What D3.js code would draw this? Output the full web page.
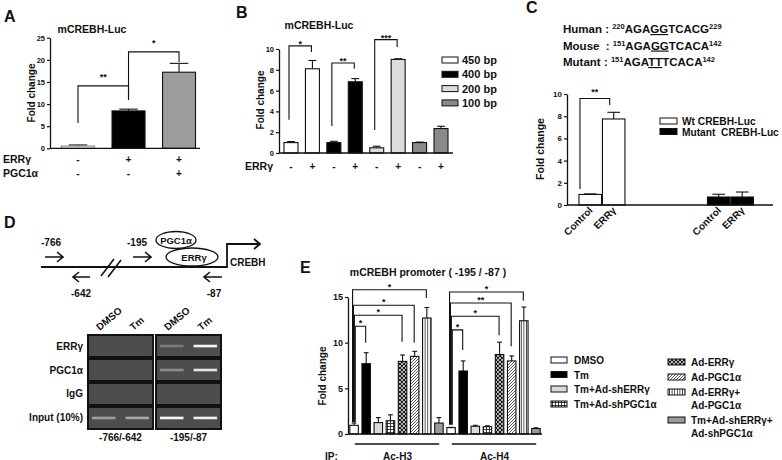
<!DOCTYPE html>
<html><head><meta charset="utf-8">
<script src="https://cdn.jsdelivr.net/npm/d3@7"></script>
<style>
body{margin:0;background:#fff;}
svg{display:block;}
</style></head><body>
<svg id="fig" width="782" height="460"></svg>
<script>
// ================= DATA =================
// Panel A
const aErrSigns = ["-", "+", "+"];
const aPgcSigns = ["-", "-", "+"];
const aValues = [0.5, 8.45, 17.2];
const aErrors = [0.25, 0.4, 2.0];
const aTicks = [0, 5, 10, 15, 20, 25];
const aColors = ["#f4f4f4", "#000000", "#9c9c9c"];
const aBrackets = [
  {from: 0, to: 1, top: 14.1, left: 5.7, right: 10.9, label: "**"},
  {from: 1, to: 2, top: 21.8, left: 10.9, right: 19.5, label: "*"}
];
// Panel B
const bSeries = ["450 bp", "400 bp", "200 bp", "100 bp"];
const bColors = ["#ffffff", "#000000", "#dcdcdc", "#8a8a8a"];
const bSigns = ["-", "+", "-", "+", "-", "+", "-", "+"];
const bValues = [1.0, 8.1, 1.0, 6.85, 0.5, 9.0, 1.0, 2.35];
const bErrors = [0.1, 0.8, 0.12, 0.3, 0.15, 0.06, 0.05, 0.22];
const bTicks = [0, 2, 4, 6, 8, 10];
const bBrackets = [
  {from: 0, to: 1, top: 10.3, left: 3.2, right: 9.7, label: "*"},
  {from: 2, to: 3, top: 8.65, left: 2.6, right: 8.1, label: "**"},
  {from: 4, to: 5, top: 10.9, left: 2.2, right: 10.2, label: "***"}
];
// Panel C
const cSeries = ["Wt CREBH-Luc", "Mutant  CREBH-Luc"];
const cColors = ["#ffffff", "#000000"];
const cLabels = ["Control", "ERRγ"];
const cWt = [0.95, 7.75];
const cWtErr = [0.05, 0.6];
const cMut = [0.72, 0.72];
const cMutErr = [0.25, 0.45];
const cTicks = [0, 2, 4, 6, 8, 10];
const cBracket = {top: 9.6, left: 1.45, right: 9.0, label: "**"};
const cSeq = [
  ["Human :", "220", "AGA", "GG", "TCACG", "229"],
  ["Mouse  :", "151", "AGA", "GG", "TCACA", "142"],
  ["Mutant :", "151", "AGA", "TT", "TCACA", "142"]
];
// Panel D
const dRows = ["ERRγ", "PGC1α", "IgG", "Input (10%)"];
const dRegions = ["-766/-642", "-195/-87"];
const dLanes = ["DMSO", "Tm"];
const dBands = [ // [row][region][lane] band intensity
  [[0, 0], [0.25, 0.95]],
  [[0, 0], [0.35, 0.85]],
  [[0, 0], [0, 0]],
  [[0.45, 0.5], [0.95, 0.9]]
];
// Panel E
const eGroups = ["Ac-H3", "Ac-H4"];
const eTreatments = ["DMSO", "Tm", "Tm+Ad-shERRγ", "Tm+Ad-shPGC1α", "Ad-ERRγ", "Ad-PGC1α",
  "Ad-ERRγ+\nAd-PGC1α", "Tm+Ad-shERRγ+\nAd-shPGC1α"];
const eH3 = [0.95, 7.7, 1.25, 1.45, 7.95, 8.5, 12.7, 1.2];
const eH3Err = [0.25, 1.2, 0.55, 0.65, 0.7, 0.55, 1.15, 0.6];
const eH4 = [0.7, 6.9, 0.85, 0.8, 8.7, 8.0, 12.4, 0.6];
const eH4Err = [0.03, 1.1, 0.1, 0.1, 1.35, 0.55, 1.5, 0.08];
const eTicks = [0, 5, 10, 15];
const eFills = ["#ffffff", "#000000", "#dcdcdc", "url(#pGrid)", "url(#pCross)", "url(#pDiag)", "url(#pVert)", "#9a9a9a"];
const eBrackets = [
  {group: 0, to: 6, top: 15.8, right: 14.9, left: 1.3, label: "*"},
  {group: 0, to: 5, top: 14.1, right: 10.0, left: 1.3, label: "*"},
  {group: 0, to: 4, top: 13.0, right: 10.1, left: 1.3, label: "*"},
  {group: 0, to: 1, top: 11.8, right: 10.0, left: 1.3, label: "*"},
  {group: 1, to: 6, top: 15.55, right: 14.6, left: 1.0, label: "*"},
  {group: 1, to: 5, top: 14.35, right: 9.6, left: 1.0, label: "**"},
  {group: 1, to: 4, top: 12.9, right: 10.8, left: 1.0, label: "*"},
  {group: 1, to: 1, top: 11.4, right: 9.2, left: 1.0, label: "*"}
];

// ================= HELPERS =================
const FONT = '"Liberation Sans", Arial, Helvetica, sans-serif';
const INK = "#111";
const svg = d3.select("#fig").attr("font-family", FONT).attr("font-weight", "bold");

const defs = svg.append("defs");
function pat(id, w, h, d, sw, col) {
  const p = defs.append("pattern").attr("id", id).attr("patternUnits", "userSpaceOnUse").attr("width", w).attr("height", h);
  p.append("rect").attr("width", w).attr("height", h).attr("fill", "#fff");
  p.append("path").attr("d", d).attr("stroke", col).attr("stroke-width", sw).attr("fill", "none");
}
pat("pGrid", 3, 3, "M0,0.5H3M0.5,0V3", 0.8, "#111");
pat("pCross", 4, 4, "M0,0L4,4M4,0L0,4M-1,1L1,-1M3,5L5,3M-1,3L1,5M3,-1L5,1", 1.2, "#111");
pat("pDiag", 3, 3, "M0,3L3,0M-1,1L1,-1M2,4L4,2", 0.8, "#333");
pat("pVert", 2.6, 4, "M1.3,0V4", 0.8, "#222");
defs.append("filter").attr("id", "blur").attr("x", "-20%").attr("y", "-200%").attr("width", "140%").attr("height", "500%")
  .append("feGaussianBlur").attr("stdDeviation", 0.7);

function text(g, x, y, s, size, anchor) {
  return g.append("text").attr("x", x).attr("y", y).attr("font-size", size)
    .attr("text-anchor", anchor || "start").attr("fill", INK).text(s);
}
function yAxis(g, y, ticks, x, fs) {
  const ax = g.append("g").attr("transform", `translate(${x},0)`)
    .call(d3.axisLeft(y).tickValues(ticks).tickSize(3).tickSizeOuter(0).tickPadding(2));
  ax.attr("font-family", null).attr("font-size", fs).attr("font-weight", "bold");
  ax.select(".domain").attr("stroke", INK).attr("stroke-width", 1.3);
  ax.selectAll(".tick line").attr("stroke", INK).attr("stroke-width", 1.2);
  ax.selectAll(".tick text").attr("fill", INK);
  return ax;
}
function baseline(g, x1, x2, yy) {
  g.append("line").attr("x1", x1).attr("x2", x2).attr("y1", yy).attr("y2", yy)
    .attr("stroke", INK).attr("stroke-width", 1.3);
}
function yLabel(g, cx, cy, s, fs) {
  g.append("text").attr("transform", `translate(${cx + fs * 0.36},${cy}) rotate(-90)`)
    .attr("text-anchor", "middle").attr("font-size", fs).attr("fill", INK).text(s);
}
function bar(g, x0, w, y, v, e, fill, stroke) {
  const top = y(v + e), yt = y(v);
  g.append("line").attr("x1", x0 + w / 2).attr("x2", x0 + w / 2).attr("y1", yt).attr("y2", top)
    .attr("stroke", INK).attr("stroke-width", 1.1);
  g.append("line").attr("x1", x0 + w / 2 - w * 0.28).attr("x2", x0 + w / 2 + w * 0.28).attr("y1", top).attr("y2", top)
    .attr("stroke", INK).attr("stroke-width", 1.1);
  g.append("rect").attr("x", x0).attr("y", yt).attr("width", w).attr("height", y(0) - yt)
    .attr("fill", fill).attr("stroke", stroke || INK).attr("stroke-width", 1.1);
}
function bracket(g, x1, x2, yTop, yL, yR, label, fs, starOff) {
  g.append("path").attr("d", `M${x1},${yL}V${yTop}H${x2}V${yR}`).attr("fill", "none")
    .attr("stroke", INK).attr("stroke-width", 1.1);
  text(g, (x1 + x2) / 2, yTop - starOff + fs * 0.57, label, fs, "middle");
}
function panelLetter(x, y, s) { text(svg, x, y, s, 16); }

// ================= PANEL A =================
{
  const g = svg.append("g");
  panelLetter(4, 22, "A");
  const y = d3.scaleLinear().domain([0, 25]).range([148.3, 37.7]);
  const x = d3.scaleBand().domain(d3.range(aValues.length)).range([50, 200])
    .paddingInner(0.347).paddingOuter(0.158).align(0.72);
  text(g, 92, 33, "mCREBH-Luc", 10.5, "middle");
  aValues.forEach((v, i) => bar(g, x(i), x.bandwidth(), y, v, aErrors[i], aColors[i], i === 0 ? "#888" : INK));
  yAxis(g, y, aTicks, 50, 7.5);
  baseline(g, 50, 200, y(0));
  yLabel(g, 31, 93, "Fold change", 10);
  aBrackets.forEach(b => bracket(g, x(b.from) + x.bandwidth() / 2, x(b.to) + x.bandwidth() / 2,
    y(b.top), y(b.left), y(b.right), b.label, 9, 11));
  text(g, 3, 163, "ERRγ", 10.5);
  text(g, 3, 177, "PGC1α", 10.5);
  aErrSigns.forEach((s, i) => text(g, x(i) + x.bandwidth() / 2, 163, s, 10, "middle"));
  aPgcSigns.forEach((s, i) => text(g, x(i) + x.bandwidth() / 2, 177, s, 10, "middle"));
}

// ================= PANEL B =================
{
  const g = svg.append("g");
  panelLetter(236, 18, "B");
  const y = d3.scaleLinear().domain([0, 10]).range([153, 49]);
  const x = d3.scaleBand().domain(d3.range(bValues.length)).range([279, 453])
    .paddingInner(0.347).paddingOuter(0.233);
  text(g, 319, 29, "mCREBH-Luc", 10.5, "middle");
  bValues.forEach((v, i) => bar(g, x(i), x.bandwidth(), y, v, bErrors[i], bColors[Math.floor(i / 2)]));
  yAxis(g, y, bTicks, 279, 7.5);
  baseline(g, 279, 453, y(0));
  yLabel(g, 260, 100, "Fold change", 10);
  bBrackets.forEach(b => bracket(g, x(b.from) + x.bandwidth() / 2 - 2, x(b.to) + x.bandwidth() / 2 - 1,
    y(b.top), y(b.left), y(b.right), b.label, 9, 4));
  text(g, 245, 170, "ERRγ", 10.5);
  bSigns.forEach((s, i) => text(g, x(i) + x.bandwidth() / 2, 170, s, 10, "middle"));
  // legend
  bSeries.forEach((s, i) => {
    const ly = 60 + i * 14.3;
    g.append("rect").attr("x", 442).attr("y", ly - 3).attr("width", 16).attr("height", 6)
      .attr("fill", bColors[i]).attr("stroke", INK).attr("stroke-width", 1);
    text(g, 462, ly + 4, s, 11);
  });
}

// ================= PANEL C =================
{
  const g = svg.append("g");
  panelLetter(526, 13, "C");
  // sequences
  cSeq.forEach((row, i) => {
    const t = g.append("text").attr("x", 563).attr("y", 33 + i * 16.5).attr("font-size", 11.5).attr("fill", INK)
      .attr("xml:space", "preserve").style("white-space", "pre");
    t.append("tspan").text(row[0] + " ");
    t.append("tspan").attr("font-size", 7.5).attr("dy", -4).text(row[1]);
    t.append("tspan").attr("dy", 4).text(row[2]);
    t.append("tspan").attr("text-decoration", "underline").text(row[3]);
    t.append("tspan").text(row[4]);
    t.append("tspan").attr("font-size", 7.5).attr("dy", -4).text(row[5]);
  });
  const y = d3.scaleLinear().domain([0, 10]).range([205, 94]);
  const xg = d3.scaleBand().domain(cSeries).range([567, 773]).paddingInner(0.642).paddingOuter(0.1225).align(0.38);
  const xi = d3.scaleBand().domain(cLabels).range([0, xg.bandwidth()]).paddingInner(0.04);
  const series = [[cWt, cWtErr], [cMut, cMutErr]];
  series.forEach(([vals, errs], si) => {
    vals.forEach((v, j) => {
      const x0 = xg(cSeries[si]) + xi(cLabels[j]);
      bar(g, x0, xi.bandwidth(), y, v, errs[j], cColors[si]);
      g.append("text").attr("transform", `translate(${x0 + xi.bandwidth() / 2 + 3},211) rotate(-45)`)
        .attr("text-anchor", "end").attr("font-size", 10).attr("fill", INK).text(cLabels[j]);
    });
  });
  yAxis(g, y, cTicks, 567, 8);
  baseline(g, 567, 773, y(0));
  yLabel(g, 540, 149, "Fold change", 10.5);
  const wx = xg(cSeries[0]);
  bracket(g, wx + 1, wx + xi(cLabels[1]) + xi.bandwidth() / 2 - 4, y(cBracket.top), y(cBracket.left), y(cBracket.right),
    cBracket.label, 9, 9);
  cSeries.forEach((s, i) => {
    const ly = 121 + i * 10.5;
    g.append("rect").attr("x", 660).attr("y", ly - 3).attr("width", 17).attr("height", 6)
      .attr("fill", cColors[i]).attr("stroke", INK).attr("stroke-width", 1);
    g.append("text").attr("x", 682).attr("y", ly + 4).attr("font-size", 10.2).attr("fill", INK)
      .attr("xml:space", "preserve").style("white-space", "pre").text(s);
  });
}

// ================= PANEL D =================
{
  const g = svg.append("g");
  panelLetter(4, 228, "D");
  const st = {stroke: INK, "stroke-width": 1.6, fill: "none"};
  function path(d) { const p = g.append("path").attr("d", d); Object.entries(st).forEach(([k, v]) => p.attr(k, v)); return p; }
  function arrowR(x1, x2, yy) { path(`M${x1},${yy}H${x2}M${x2 - 6},${yy - 5}L${x2},${yy}L${x2 - 6},${yy + 5}`); }
  function arrowL(x1, x2, yy) { path(`M${x2},${yy}H${x1}M${x1 + 6},${yy - 5}L${x1},${yy}L${x1 + 6},${yy + 5}`); }
  path("M41,267H227V244H260").attr("stroke-width", 1.8);
  path("M254,239L260,244L254,249").attr("stroke-width", 1.8);
  path("M101,276L114,259M108,277L121,260");
  arrowR(45, 63, 257); arrowR(133, 151, 257);
  arrowL(73, 90, 277); arrowL(204, 222, 277);
  text(g, 51, 246, "-766", 10, "middle");
  text(g, 137, 246, "-195", 10, "middle");
  text(g, 81, 297, "-642", 10, "middle");
  text(g, 214, 297, "-87", 10, "middle");
  text(g, 230, 266, "CREBH", 10);
  g.append("ellipse").attr("cx", 176).attr("cy", 240).attr("rx", 20).attr("ry", 8.5).attr("fill", "#fff").attr("stroke", INK).attr("stroke-width", 1.3);
  text(g, 176, 243.5, "PGC1α", 9.5, "middle");
  g.append("ellipse").attr("cx", 192).attr("cy", 257).attr("rx", 26).attr("ry", 9).attr("fill", "#fff").attr("stroke", INK).attr("stroke-width", 1.3);
  text(g, 194, 260.5, "ERRγ", 9.5, "middle");
  // gel
  const xc = d3.scaleBand().domain(dRegions).range([88, 221]).paddingInner(0.045);
  const yr = d3.scaleBand().domain(dRows).range([335, 429]).paddingInner(0.08);
  const xl = d3.scaleBand().domain(dLanes).range([4, 61]).paddingInner(0.3);
  dRows.forEach((r, ri) => {
    dRegions.forEach((c, ci) => {
      g.append("rect").attr("x", xc(c)).attr("y", yr(r)).attr("width", xc.bandwidth()).attr("height", yr.bandwidth())
        .attr("fill", "#4d4d4d").attr("stroke", "#111").attr("stroke-width", 2);
      dLanes.forEach((l, li) => {
        const a = dBands[ri][ci][li];
        if (a > 0) g.append("rect").attr("x", xc(c) + xl(l)).attr("y", yr(r) + yr.bandwidth() / 2 - 1.3)
          .attr("width", xl.bandwidth()).attr("height", 2.6).attr("fill", "#fff").attr("opacity", a)
          .attr("filter", "url(#blur)");
      });
    });
    text(g, 83, yr(r) + yr.bandwidth() / 2 + 3.5, r, 10, "end");
  });
  dRegions.forEach(c => {
    text(g, xc(c) + xc.bandwidth() / 2, 441, c, 10, "middle");
    dLanes.forEach(l => {
      g.append("text").attr("transform", `translate(${xc(c) + xl(l) + xl.bandwidth() / 2 - 4},331) rotate(-40)`)
        .attr("font-size", 10).attr("fill", INK).text(l);
    });
  });
}

// ================= PANEL E =================
{
  const g = svg.append("g");
  panelLetter(300, 273, "E");
  text(g, 428, 276, "mCREBH promoter ( -195 / -87 )", 10.5, "middle");
  const y = d3.scaleLinear().domain([0, 15]).range([434, 297]);
  const keys = [];
  eGroups.forEach(gr => eTreatments.forEach(t => keys.push(gr + "|" + t)));
  const x = d3.scaleBand().domain(keys).range([348, 542]).paddingInner(0.3).paddingOuter(0.15);
  const data = [[eH3, eH3Err], [eH4, eH4Err]];
  data.forEach(([vals, errs], gi) => vals.forEach((v, i) =>
    bar(g, x(eGroups[gi] + "|" + eTreatments[i]), x.bandwidth(), y, v, errs[i], eFills[i])));
  yAxis(g, y, eTicks, 348, 9);
  baseline(g, 348, 542, y(0));
  yLabel(g, 322, 376, "Fold change", 10);
  const cx = (gi, i) => x(eGroups[gi] + "|" + eTreatments[i]) + x.bandwidth() / 2;
  eBrackets.forEach((b, k) => {
    const off = (k % 4);
    bracket(g, cx(b.group, 0) - 1.5 + off * 0.9, cx(b.group, b.to) - 0.5, y(b.top), y(b.left), y(b.right), b.label, 9, 5);
  });
  eGroups.forEach((gr, gi) => {
    const x1 = x(gr + "|" + eTreatments[0]) + 5;
    const x2 = x(gr + "|" + eTreatments[eTreatments.length - 1]) + x.bandwidth() - 4;
    g.append("line").attr("x1", x1).attr("x2", x2).attr("y1", 444).attr("y2", 444).attr("stroke", INK).attr("stroke-width", 1.4);
    text(g, (x1 + x2) / 2 + 0.5, 459.5, gr, 10, "middle");
  });
  text(g, 325, 459.5, "IP:", 10);
  // legend
  const rowsL = [360, 374.5, 389, 404];
  const rowsR = [362, 377, 392, 420];
  eTreatments.forEach((t, i) => {
    const left = i < 4;
    const bx = left ? 551 : 668, tx = left ? 574 : 691, ly = left ? rowsL[i] : rowsR[i - 4];
    g.append("rect").attr("x", bx).attr("y", ly - 3).attr("width", left ? 16 : 17).attr("height", 6)
      .attr("fill", eFills[i]).attr("stroke", INK).attr("stroke-width", 1);
    t.split("\n").forEach((line, li) => text(g, tx, ly + 4 + li * 12.5, line, 10));
  });
}
</script></body></html>
